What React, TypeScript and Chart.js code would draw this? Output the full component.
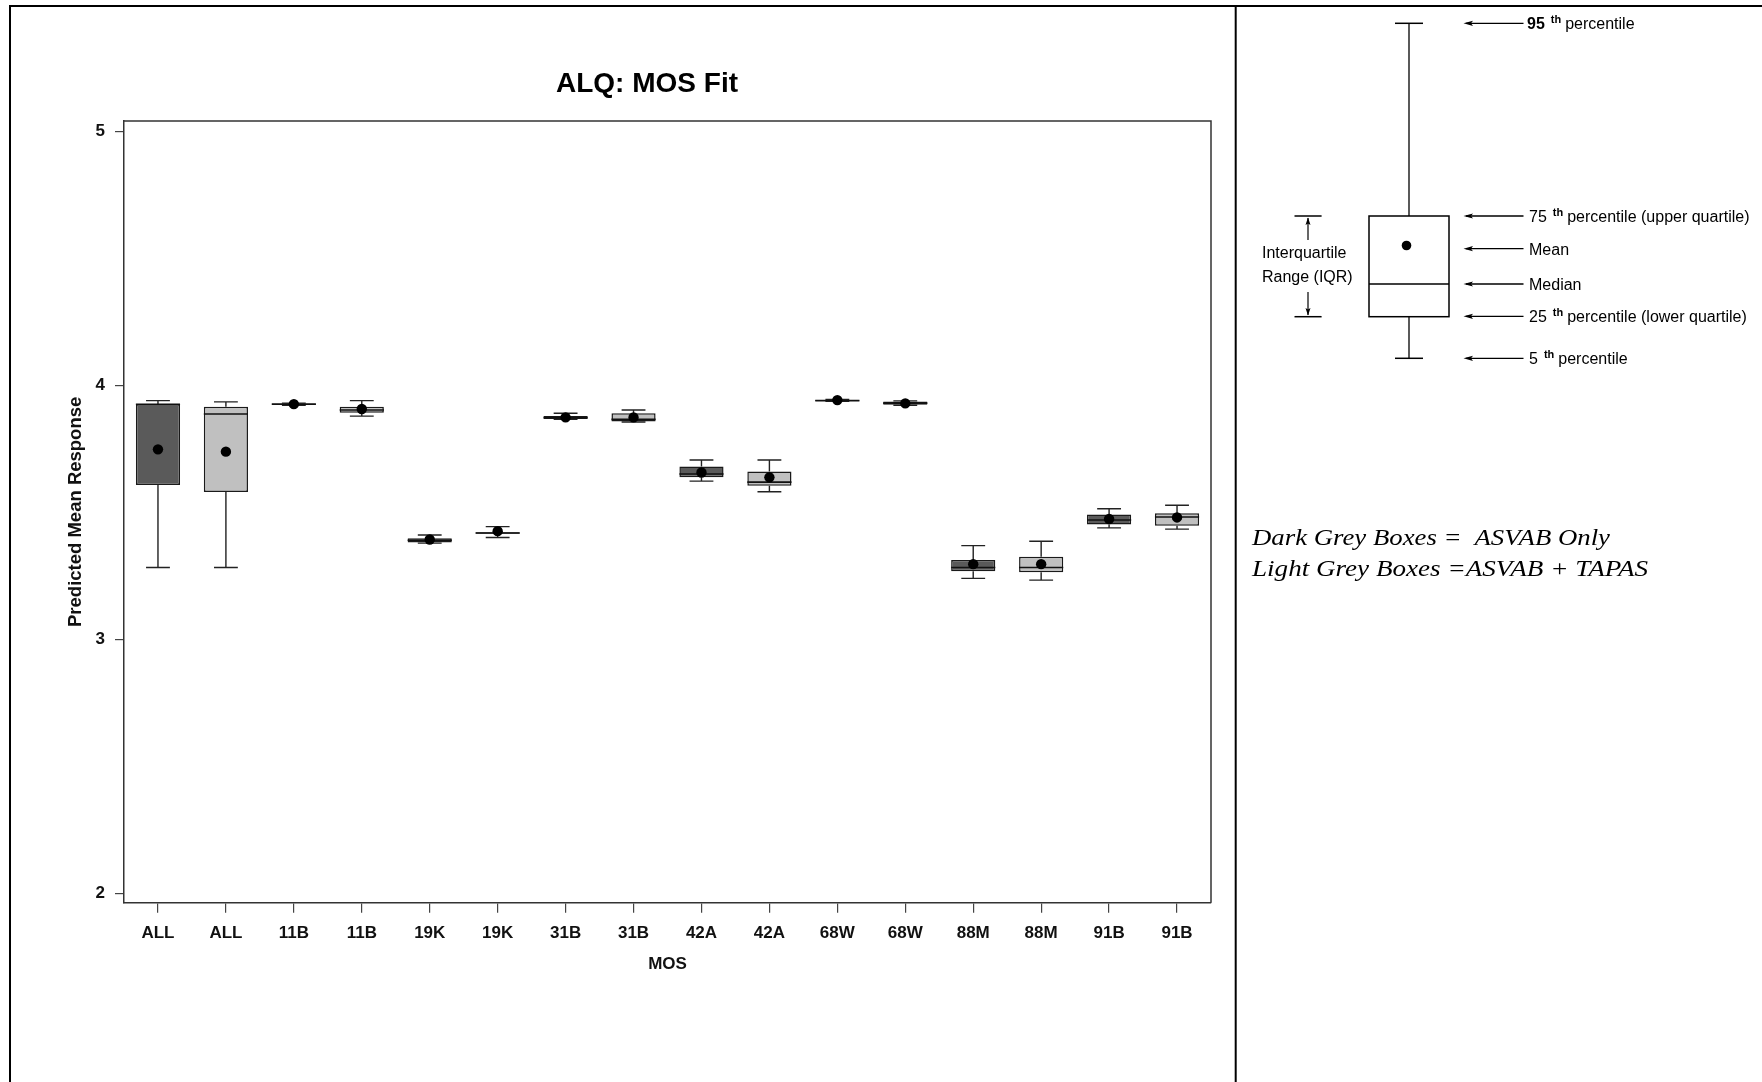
import React, { useEffect, useRef } from "react";
import { Chart, registerables } from "chart.js";

Chart.register(...registerables);

// ---------- data ----------
const categories = ["ALL", "ALL", "11B", "11B", "19K", "19K", "31B", "31B", "42A", "42A", "68W", "68W", "88M", "88M", "91B", "91B"];
const models = [
  "ASVAB Only", "ASVAB + TAPAS", "ASVAB Only", "ASVAB + TAPAS",
  "ASVAB Only", "ASVAB + TAPAS", "ASVAB Only", "ASVAB + TAPAS",
  "ASVAB Only", "ASVAB + TAPAS", "ASVAB Only", "ASVAB + TAPAS",
  "ASVAB Only", "ASVAB + TAPAS", "ASVAB Only", "ASVAB + TAPAS",
];
const whiskerLow = [3.283, 3.283, 3.922, 3.879, 3.379, 3.401, 3.866, 3.856, 3.623, 3.581, 3.937, 3.922, 3.240, 3.233, 3.439, 3.434];
const q1 = [3.608, 3.580, 3.924, 3.892, 3.381, 3.416, 3.868, 3.858, 3.638, 3.605, 3.938, 3.924, 3.268, 3.264, 3.452, 3.447];
const median = [3.925, 3.887, 3.926, 3.903, 3.390, 3.419, 3.873, 3.866, 3.651, 3.619, 3.940, 3.930, 3.283, 3.283, 3.470, 3.482];
const q3 = [3.927, 3.916, 3.928, 3.916, 3.398, 3.422, 3.879, 3.890, 3.681, 3.661, 3.942, 3.937, 3.312, 3.325, 3.492, 3.496];
const whiskerHigh = [3.940, 3.935, 3.930, 3.940, 3.411, 3.444, 3.890, 3.903, 3.706, 3.706, 3.945, 3.939, 3.369, 3.386, 3.514, 3.528];
const means = [3.748, 3.739, 3.926, 3.907, 3.393, 3.426, 3.874, 3.874, 3.657, 3.638, 3.942, 3.929, 3.296, 3.296, 3.474, 3.480];
const yTicks = [2, 3, 4, 5];

const DARK = "#5a5a5a";
const LIGHT = "#c0c0c0";
const FONT = "'Liberation Sans', Arial, Helvetica, sans-serif";
const SERIF = "'Liberation Serif', 'Times New Roman', serif";

const boxPlugin = {
  id: "boxWhiskers",
  afterDatasetDraw(chart: any, args: any) {
    if (args.index !== 0) return;
    const { ctx } = chart;
    const y = chart.scales.y;
    const meta = chart.getDatasetMeta(0);
    ctx.save();
    meta.data.forEach((bar: any, i: number) => {
      const cx = bar.x;
      const w = bar.width;
      const cap = w * 0.27;
      const pLo = y.getPixelForValue(whiskerLow[i]);
      const pHi = y.getPixelForValue(whiskerHigh[i]);
      const pQ1 = y.getPixelForValue(q1[i]);
      const pQ3 = y.getPixelForValue(q3[i]);
      const pMed = y.getPixelForValue(median[i]);
      ctx.strokeStyle = "#222";
      ctx.lineWidth = 1.4;
      ctx.beginPath();
      ctx.moveTo(cx, pQ3);
      ctx.lineTo(cx, pHi);
      ctx.moveTo(cx - cap, pHi);
      ctx.lineTo(cx + cap, pHi);
      ctx.moveTo(cx, pQ1);
      ctx.lineTo(cx, pLo);
      ctx.moveTo(cx - cap, pLo);
      ctx.lineTo(cx + cap, pLo);
      ctx.stroke();
      ctx.lineWidth = 1.6;
      ctx.strokeStyle = "#111";
      ctx.beginPath();
      ctx.moveTo(cx - w / 2, pMed);
      ctx.lineTo(cx + w / 2, pMed);
      ctx.stroke();
    });
    ctx.restore();
  },
  afterDraw(chart: any) {
    const { ctx, chartArea } = chart;
    ctx.save();
    ctx.strokeStyle = "#333";
    ctx.lineWidth = 1.5;
    ctx.beginPath();
    ctx.moveTo(chartArea.left, chartArea.top);
    ctx.lineTo(chartArea.right, chartArea.top);
    ctx.lineTo(chartArea.right, chartArea.bottom);
    ctx.stroke();
    ctx.restore();
  },
};

function Arrow({ y }: { y: number }) {
  return (
    <g>
      <line x1={1466} y1={y} x2={1523.5} y2={y} stroke="#000" strokeWidth={1.3} />
      <polygon points={`1463.5,${y} 1473,${y - 2.6} 1471,${y} 1473,${y + 2.6}`} fill="#000" />
    </g>
  );
}

function Label({ x, y, num, rest, bold }: { x: number; y: number; num?: string; rest: string; bold?: boolean }) {
  return (
    <text x={x} y={y} dominantBaseline="central" fontFamily={FONT} fontSize={16} fill="#000">
      {num ? <tspan fontWeight={bold ? "bold" : "normal"}>{num}</tspan> : null}
      {num ? (
        <tspan dx={6} dy={-4} fontSize={11} fontWeight="bold">th</tspan>
      ) : null}
      {num ? <tspan dx={4} dy={4}>{rest}</tspan> : <tspan>{rest}</tspan>}
    </text>
  );
}

export default function App() {
  const ref = useRef<HTMLCanvasElement>(null);

  useEffect(() => {
    const canvas = ref.current!;
    const chart = new Chart(canvas, {
      type: "bar",
      data: {
        labels: categories,
        datasets: [
          {
            type: "bar",
            label: "Box",
            data: q1.map((v, i) => [v, q3[i]]) as any,
            backgroundColor: models.map((m) => (m === "ASVAB Only" ? DARK : LIGHT)),
            borderColor: "#1a1a1a",
            borderWidth: 1.5,
            borderSkipped: false,
            barPercentage: 0.65,
            categoryPercentage: 1,
            yAxisID: "y",
            order: 2,
          } as any,
          {
            type: "line",
            label: "Mean",
            data: means,
            showLine: false,
            pointRadius: 5.2,
            pointBackgroundColor: "#000",
            pointBorderColor: "#000",
            pointBorderWidth: 0,
            yAxisID: "y",
            order: 1,
          } as any,
        ],
      },
      options: {
        animation: false,
        responsive: false,
        devicePixelRatio: 1,
        layout: { padding: { left: 0, top: 0, right: 0, bottom: 104.8 } },
        plugins: {
          legend: { display: false },
          tooltip: { enabled: false },
          title: {
            display: true,
            text: "ALQ: MOS Fit",
            color: "#000",
            font: { family: FONT, size: 28, weight: "bold" },
            padding: { top: 59.2, bottom: 20.2 },
          },
        },
        scales: {
          x: {
            type: "category",
            offset: true,
            afterFit: (s: any) => {
              s.height = 74.5;
            },
            grid: { display: true, offset: false, drawOnChartArea: false, drawTicks: true, tickLength: 10, color: "#444", lineWidth: 1.2 },
            border: { display: true, color: "#333", width: 1.5 },
            ticks: { font: { family: FONT, size: 17, weight: "bold" }, color: "#111", padding: 10.5, maxRotation: 0, autoSkip: false },
            title: { display: true, text: "MOS", color: "#111", font: { family: FONT, size: 17, weight: "bold" }, padding: { top: 4, bottom: 3 } },
          },
          y: {
            type: "linear",
            position: "left",
            min: 1.963,
            max: 5.041,
            afterBuildTicks: (s: any) => {
              s.ticks = yTicks.map((v) => ({ value: v }));
            },
            afterFit: (s: any) => {
              s.width = 112;
            },
            ticks: { font: { family: FONT, size: 17, weight: "bold" }, color: "#111", padding: 10 },
            grid: { display: true, drawOnChartArea: false, drawTicks: true, tickLength: 9, color: "#444", lineWidth: 1.2 },
            border: { display: true, color: "#333", width: 1.5 },
            title: {
              display: true,
              text: "Predicted Mean Response",
              color: "#111",
              font: { family: FONT, size: 18.5, weight: "bold" },
              padding: { top: 53, bottom: 0 },
            },
          },
          yR: {
            type: "linear",
            position: "right",
            display: true,
            afterFit: (s: any) => {
              s.width = 71;
            },
            ticks: { display: false },
            grid: { display: false },
            border: { display: false },
          },
        },
      } as any,
      plugins: [boxPlugin],
    });
    return () => chart.destroy();
  }, []);

  const arrowYs = [23.3, 216, 248.7, 284, 316.3, 358.3];

  return (
    <div style={{ position: "absolute", left: 0, top: 0, width: 1762, height: 1082, overflow: "hidden", background: "#fff" }}>
      <canvas
        ref={ref}
        width={1270}
        height={1074}
        style={{ position: "absolute", left: 12, top: 8, width: 1270, height: 1074 }}
      />
      <svg width={1762} height={1082} style={{ position: "absolute", left: 0, top: 0 }}>
        {/* table borders */}
        <line x1={9} y1={6} x2={1762} y2={6} stroke="#000" strokeWidth={2} />
        <line x1={10} y1={5} x2={10} y2={1082} stroke="#000" strokeWidth={2} />
        <line x1={1235.7} y1={5} x2={1235.7} y2={1082} stroke="#000" strokeWidth={2} />

        {/* box-plot key */}
        <line x1={1409} y1={23.3} x2={1409} y2={216} stroke="#000" strokeWidth={1.3} />
        <line x1={1395} y1={23.3} x2={1423} y2={23.3} stroke="#000" strokeWidth={1.5} />
        <rect x={1369} y={216} width={80} height={100.7} fill="none" stroke="#000" strokeWidth={1.5} />
        <line x1={1369} y1={284} x2={1449} y2={284} stroke="#000" strokeWidth={1.5} />
        <circle cx={1406.5} cy={245.5} r={4.8} fill="#000" />
        <line x1={1409} y1={316.7} x2={1409} y2={358.3} stroke="#000" strokeWidth={1.3} />
        <line x1={1395} y1={358.3} x2={1423} y2={358.3} stroke="#000" strokeWidth={1.5} />

        {arrowYs.map((y) => (
          <Arrow key={y} y={y} />
        ))}

        <Label x={1527} y={23.3} num="95" rest="percentile" bold />
        <Label x={1529} y={216} num="75" rest="percentile (upper quartile)" />
        <Label x={1529} y={248.7} rest="Mean" />
        <Label x={1529} y={284} rest="Median" />
        <Label x={1529} y={316.3} num="25" rest="percentile (lower quartile)" />
        <Label x={1529} y={358.3} num="5" rest="percentile" />

        {/* IQR bracket */}
        <line x1={1294.5} y1={216} x2={1321.6} y2={216} stroke="#000" strokeWidth={1.5} />
        <line x1={1294.5} y1={316.7} x2={1321.6} y2={316.7} stroke="#000" strokeWidth={1.5} />
        <line x1={1308} y1={218} x2={1308} y2={240} stroke="#000" strokeWidth={1.2} />
        <polygon points="1308,217.5 1305.5,225 1308,223.5 1310.5,225" fill="#000" />
        <line x1={1308} y1={292} x2={1308} y2={315} stroke="#000" strokeWidth={1.2} />
        <polygon points="1308,315.5 1305.5,308 1308,309.5 1310.5,308" fill="#000" />
        <text x={1262} y={252.7} dominantBaseline="central" fontFamily={FONT} fontSize={16} fill="#000">Interquartile</text>
        <text x={1262} y={276.7} dominantBaseline="central" fontFamily={FONT} fontSize={16} fill="#000">Range (IQR)</text>

        {/* colour legend */}
        <text x={1252} y={545} fontFamily={SERIF} fontStyle="italic" fontSize={24} fill="#000" textLength={358} lengthAdjust="spacingAndGlyphs" style={{ whiteSpace: "pre" }}>
          {"Dark Grey Boxes =  ASVAB Only"}
        </text>
        <text x={1252} y={576} fontFamily={SERIF} fontStyle="italic" fontSize={24} fill="#000" textLength={396} lengthAdjust="spacingAndGlyphs" style={{ whiteSpace: "pre" }}>
          {"Light Grey Boxes =ASVAB + TAPAS"}
        </text>
      </svg>
    </div>
  );
}
